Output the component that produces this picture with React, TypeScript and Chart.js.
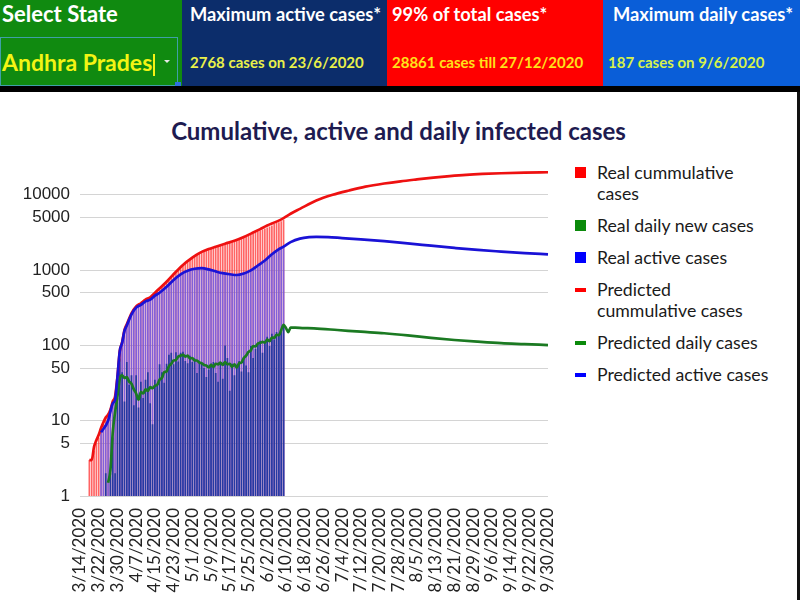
import React, { useEffect, useRef } from "react";
import { Chart, registerables } from "chart.js";

Chart.register(...registerables);

// ---------- data ----------
const START_DATE = [2020, 3, 14]; // y, m, d  (first category)
const DAY_COUNT = 201; // 3/14/2020 .. 9/30/2020
const X_TICK_EVERY = 8;
const Y_TICKS = [1, 5, 10, 50, 100, 500, 1000, 5000, 10000];

// real cumulative cases, from day index 4 (3/18) to 87 (6/9)
const REAL_CUM_START = 4;
const realCumulative = [
  3, 3, 4, 5, 6, 8, 9, 11, 12, 14,
  19, 21, 40, 87, 111, 161, 190, 226, 266, 303,
  329, 348, 363, 381, 405, 420, 427, 473, 502, 534,
  572, 603, 647, 722, 757, 813, 893, 955, 1016, 1097,
  1177, 1259, 1332, 1403, 1463, 1525, 1583, 1650, 1717, 1777,
  1833, 1887, 1930, 1980, 2018, 2051, 2090, 2137, 2205, 2307,
  2355, 2407, 2452, 2514, 2561, 2647, 2719, 2780, 2841, 2944,
  3042, 3171, 3279, 3377, 3461, 3571, 3679, 3783, 3896, 4080,
  4223, 4303, 4460, 4659,
];

// real active cases, from day index 9 to 87
const REAL_ACTIVE_START = 9;
const realActive = [
  7, 8, 9, 10, 12, 17, 19, 38, 84, 108,
  156, 184, 220, 259, 294, 317, 333, 346, 361, 384,
  397, 401, 433, 457, 482, 500, 525, 562, 620, 640,
  680, 740, 790, 830, 890, 920, 960, 980, 1010, 1020,
  1040, 1030, 1050, 1060, 1050, 1040, 1020, 990, 980, 960,
  940, 925, 910, 900, 890, 880, 870, 865, 860, 870,
  880, 900, 920, 950, 990, 1040, 1100, 1150, 1200, 1260,
  1340, 1420, 1520, 1620, 1750, 1850, 1930, 2000, 2050,
];

// real daily new cases, from day index 11 to 87
const REAL_DAILY_START = 11;
const realDaily = [
  2, 1, 2, 6, 2, 20, 67, 44, 18, 60,
  30, 40, 16, 40, 15, 33, 20, 35, 44, 17,
  9, 35, 30, 56, 44, 32, 57, 75, 80, 56,
  81, 61, 80, 82, 62, 58, 73, 60, 67, 43,
  61, 58, 50, 38, 48, 57, 60, 43, 33, 60,
  36, 100, 68, 25, 57, 40, 52, 62, 45, 66,
  54, 44, 98, 68, 90, 105, 115, 80, 110, 130,
  98, 143, 120, 150, 138, 160, 187,
];

// predicted curves: [day index, value]
const predictedCumulative: [number, number][] = [
  [4, 3], [5, 3], [6, 4.5], [7, 5.5], [8, 6.5], [9, 8], [10, 9.5], [11, 11], [12, 12],
  [13, 14], [14, 18], [15, 21], [16, 38], [17, 84], [18, 110], [19, 160], [20, 190],
  [22, 266], [24, 329], [26, 363], [28, 405], [30, 435], [33, 534], [37, 700], [40, 880],
  [44, 1170], [48, 1460], [51, 1680], [55, 1900], [58, 2040], [62, 2240], [66, 2450],
  [70, 2750], [74, 3150], [77, 3500], [80, 3900], [84, 4400], [87, 4900], [90, 5600],
  [94, 6500], [101, 8400], [108, 10000], [115, 11400], [122, 12800], [130, 14100],
  [137, 15100], [144, 16000], [151, 16900], [158, 17700], [165, 18400], [172, 18900],
  [180, 19300], [190, 19650], [200, 19900],
];

const predictedDaily: [number, number][] = [
  [12, 1.5], [13, 2.2], [14, 7], [15, 13], [16, 21], [17, 36], [18, 40], [19, 37], [20, 38],
  [21, 33], [22, 31], [23, 26], [24, 23], [25, 19], [26, 24], [27, 23], [28, 26], [29, 25],
  [30, 28], [31, 27], [32, 29], [33, 30], [34, 35], [35, 37], [36, 44], [37, 45], [38, 53],
  [39, 57], [40, 63], [41, 64], [42, 71], [43, 73], [44, 75], [45, 71], [46, 73], [47, 67],
  [48, 68], [49, 63], [50, 63], [51, 59], [52, 58], [53, 55], [54, 54], [55, 51], [56, 55],
  [57, 52], [58, 57], [59, 56], [60, 59], [61, 55], [62, 60], [63, 56], [64, 57], [65, 52],
  [66, 56], [67, 51], [68, 58], [69, 59], [70, 68], [71, 73], [72, 82], [73, 86], [74, 98],
  [75, 97], [76, 106], [77, 108], [78, 111], [79, 109], [80, 119], [81, 114], [82, 127],
  [83, 126], [84, 138], [85, 137], [86, 160], [87, 187], [88, 170], [89, 150], [90, 172],
  [92, 172], [95, 170], [100, 168], [110, 160], [120, 152], [130, 145], [140, 136],
  [150, 126], [160, 118], [170, 112], [180, 107], [190, 104], [200, 101],
];

const predictedActive: [number, number][] = [
  [9, 7], [12, 10], [14, 17], [15, 19], [16, 38], [17, 84], [18, 108], [19, 156], [20, 184],
  [22, 259], [24, 317], [26, 346], [28, 384], [30, 405], [32, 457], [34, 500], [37, 600],
  [40, 740], [43, 880], [46, 980], [49, 1040], [52, 1060], [55, 1020], [58, 960], [61, 910],
  [64, 880], [67, 860], [70, 900], [73, 990], [76, 1150], [79, 1340], [82, 1620], [85, 1900],
  [87, 2050], [90, 2350], [94, 2620], [98, 2740], [101, 2768], [106, 2740], [112, 2660],
  [120, 2560], [130, 2420], [140, 2260], [150, 2110], [160, 1970], [170, 1850], [180, 1760],
  [190, 1680], [200, 1620],
];

const HEADER_BOXES = [
  { title: "Maximum active cases*", value: "2768 cases on 23/6/2020" },
  { title: "99% of total cases*", value: "28861 cases till 27/12/2020" },
  { title: "Maximum daily cases*", value: "187 cases on 9/6/2020" },
];
const STATE_NAME = "Andhra Prades";
const CHART_TITLE = "Cumulative, active and daily infected cases";
const LEGEND_ITEMS = [
  { lines: ["Real cummulative", "cases"], color: "#ff0000", kind: "box" },
  { lines: ["Real daily new cases"], color: "#0b8a0b", kind: "box" },
  { lines: ["Real active cases"], color: "#0000ff", kind: "box" },
  { lines: ["Predicted", "cummulative cases"], color: "#ff0000", kind: "dash" },
  { lines: ["Predicted daily cases"], color: "#0b8a0b", kind: "dash" },
  { lines: ["Predicted active cases"], color: "#0000ff", kind: "dash" },
];

// ---------- helpers ----------
function buildDateLabels(): string[] {
  const out: string[] = [];
  const base = Date.UTC(START_DATE[0], START_DATE[1] - 1, START_DATE[2]);
  for (let i = 0; i < DAY_COUNT; i++) {
    const t = new Date(base + i * 86400000);
    out.push(`${t.getUTCMonth() + 1}/${t.getUTCDate()}/${t.getUTCFullYear()}`);
  }
  return out;
}
function fromStart(start: number, values: number[]) {
  const a: (number | null)[] = new Array(DAY_COUNT).fill(null);
  values.forEach((v, i) => (a[start + i] = v));
  return a;
}
function fromPairs(pairs: [number, number][]) {
  const a: (number | null)[] = new Array(DAY_COUNT).fill(null);
  pairs.forEach(([d, v]) => (a[d] = v));
  return a;
}

const FONT = "Lato, 'Open Sans', sans-serif";

export default function App() {
  const canvasRef = useRef<HTMLCanvasElement>(null);

  useEffect(() => {
    document.body.style.margin = "0";
    const labels = buildDateLabels();
    const lineCommon = {
      type: "line" as const,
      borderWidth: 2.7,
      pointRadius: 0,
      spanGaps: true,
      cubicInterpolationMode: "monotone" as const,
      fill: false,
    };
    const barCommon = {
      type: "bar" as const,
      grouped: false,
      barPercentage: 0.72,
      categoryPercentage: 1,
    };
    const chart = new Chart(canvasRef.current!, {
      type: "bar",
      data: {
        labels,
        datasets: [
          { ...barCommon, label: "Real cummulative cases", data: fromStart(REAL_CUM_START, realCumulative), backgroundColor: "rgba(255,40,40,0.72)", order: 5 },
          { ...barCommon, label: "Real daily new cases", data: fromStart(REAL_DAILY_START, realDaily), backgroundColor: "rgba(24,52,155,0.88)", order: 3 },
          { ...barCommon, label: "Real active cases", data: fromStart(REAL_ACTIVE_START, realActive), backgroundColor: "rgba(90,95,255,0.76)", order: 4 },
          { ...lineCommon, label: "Predicted cummulative cases", data: fromPairs(predictedCumulative), borderColor: "#ee1111", order: 2 },
          { ...lineCommon, label: "Predicted daily cases", data: fromPairs(predictedDaily), borderColor: "#1b7a22", order: 1 },
          { ...lineCommon, label: "Predicted active cases", data: fromPairs(predictedActive), borderColor: "#1a12d6", order: 0 },
        ] as any,
      },
      options: {
        responsive: false,
        animation: false,
        layout: { padding: { top: 72.8, right: 12, left: 0, bottom: 0 } },
        plugins: {
          legend: { display: false },
          title: { display: false },
          tooltip: { enabled: false },
        },
        scales: {
          x: {
            type: "category",
            offset: false,
            grid: { display: false },
            border: { display: false },
            ticks: {
              autoSkip: false,
              maxRotation: 90,
              minRotation: 90,
              padding: 4,
              color: "#222",
              font: { family: FONT, size: 17 },
              callback: (_v: any, i: number) => (i % X_TICK_EVERY === 0 ? labels[i] : ""),
            },
            afterFit: (s: any) => {
              s.height = 104;
              s.paddingLeft = 0;
              s.paddingRight = 0;
            },
          },
          y: {
            type: "logarithmic",
            min: 1,
            max: 25000,
            grid: { color: "#d4d4d4", lineWidth: 1, drawTicks: false },
            border: { display: false },
            ticks: {
              color: "#222",
              padding: 10,
              font: { family: "'Liberation Sans', Arial, sans-serif", size: 17 },
              callback: (v: any) => String(v),
            },
            afterBuildTicks: (s: any) => {
              s.ticks = Y_TICKS.map((v) => ({ value: v }));
            },
            afterFit: (s: any) => {
              s.width = 80;
            },
          },
        },
      } as any,
    });
    return () => chart.destroy();
  }, []);

  const headerColors = ["#0c2d6b", "#ff0000", "#0a5ed8"];
  const valueColors = ["#e9f04a", "#ffe21a", "#d6f24a"];
  const boxLefts = [182, 387, 603];
  const boxWidths = [205, 216, 197];
  const titleLefts = [190, 392, 613];
  const valueLefts = [190, 392, 608];

  return (
    <div style={{ position: "relative", width: 800, height: 600, background: "#fff", overflow: "hidden", fontFamily: FONT }}>
      {/* header */}
      <div style={{ position: "absolute", left: 0, top: 0, width: 182, height: 86, background: "#108a10" }} />
      <div style={{ position: "absolute", left: 2, top: 0, height: 28, lineHeight: "28px", color: "#fff", fontWeight: 700, fontSize: 22, whiteSpace: "nowrap" }}>Select State</div>
      <div style={{ position: "absolute", left: 0, top: 37, width: 176, height: 47, border: "1px solid #3fa0a8" }} />
      <div style={{ position: "absolute", left: 2, top: 48, height: 28, lineHeight: "28px", color: "#f4f414", fontWeight: 700, fontSize: 23, whiteSpace: "nowrap" }}>
        {STATE_NAME}
        <span style={{ display: "inline-block", width: 1.5, height: 22, background: "#f4f414", verticalAlign: "middle", marginLeft: 1 }} />
      </div>
      <div style={{ position: "absolute", left: 164, top: 60, width: 0, height: 0, borderLeft: "3px solid transparent", borderRight: "3px solid transparent", borderTop: "3px solid #e8e8e8" }} />
      <div style={{ position: "absolute", left: 175, top: 82, width: 6, height: 6, background: "#2f6fe0" }} />
      {HEADER_BOXES.map((b, i) => (
        <React.Fragment key={i}>
          <div style={{ position: "absolute", left: boxLefts[i], top: 0, width: boxWidths[i], height: 86, background: headerColors[i] }} />
          <div style={{ position: "absolute", left: titleLefts[i], top: 2, height: 24, lineHeight: "24px", color: "#fff", fontWeight: 700, fontSize: 18.3, whiteSpace: "nowrap" }}>{b.title}</div>
          <div style={{ position: "absolute", left: valueLefts[i], top: 52, height: 20, lineHeight: "20px", color: valueColors[i], fontWeight: 700, fontSize: 15, whiteSpace: "nowrap" }}>{b.value}</div>
        </React.Fragment>
      ))}
      <div style={{ position: "absolute", left: 0, top: 86, width: 800, height: 6, background: "#000" }} />
      <div style={{ position: "absolute", left: 797, top: 92, width: 3, height: 508, background: "#111" }} />

      {/* title */}
      <div style={{ position: "absolute", left: 0, top: 117, width: 797, height: 28, lineHeight: "28px", textAlign: "center", color: "#1e1b50", fontWeight: 700, fontSize: 24 }}>{CHART_TITLE}</div>

      {/* chart */}
      <div style={{ position: "absolute", left: 0, top: 92, width: 560, height: 508 }}>
        <canvas ref={canvasRef} width={560} height={508} style={{ display: "block" }} />
      </div>

      {/* legend */}
      <div style={{ position: "absolute", left: 570, top: 162, width: 225 }}>
        {LEGEND_ITEMS.map((it, i) => (
          <div key={i} style={{ position: "relative", paddingLeft: 27, marginBottom: 11, color: "#1a1a1a", fontSize: 17.7, lineHeight: "21px" }}>
            <div
              style={{
                position: "absolute",
                left: 5,
                top: it.kind === "box" ? 5 : 9,
                width: 11,
                height: it.kind === "box" ? 11 : 4,
                background: it.color,
              }}
            />
            {it.lines.map((l, j) => (
              <div key={j} style={{ whiteSpace: "nowrap" }}>{l}</div>
            ))}
          </div>
        ))}
      </div>
    </div>
  );
}
